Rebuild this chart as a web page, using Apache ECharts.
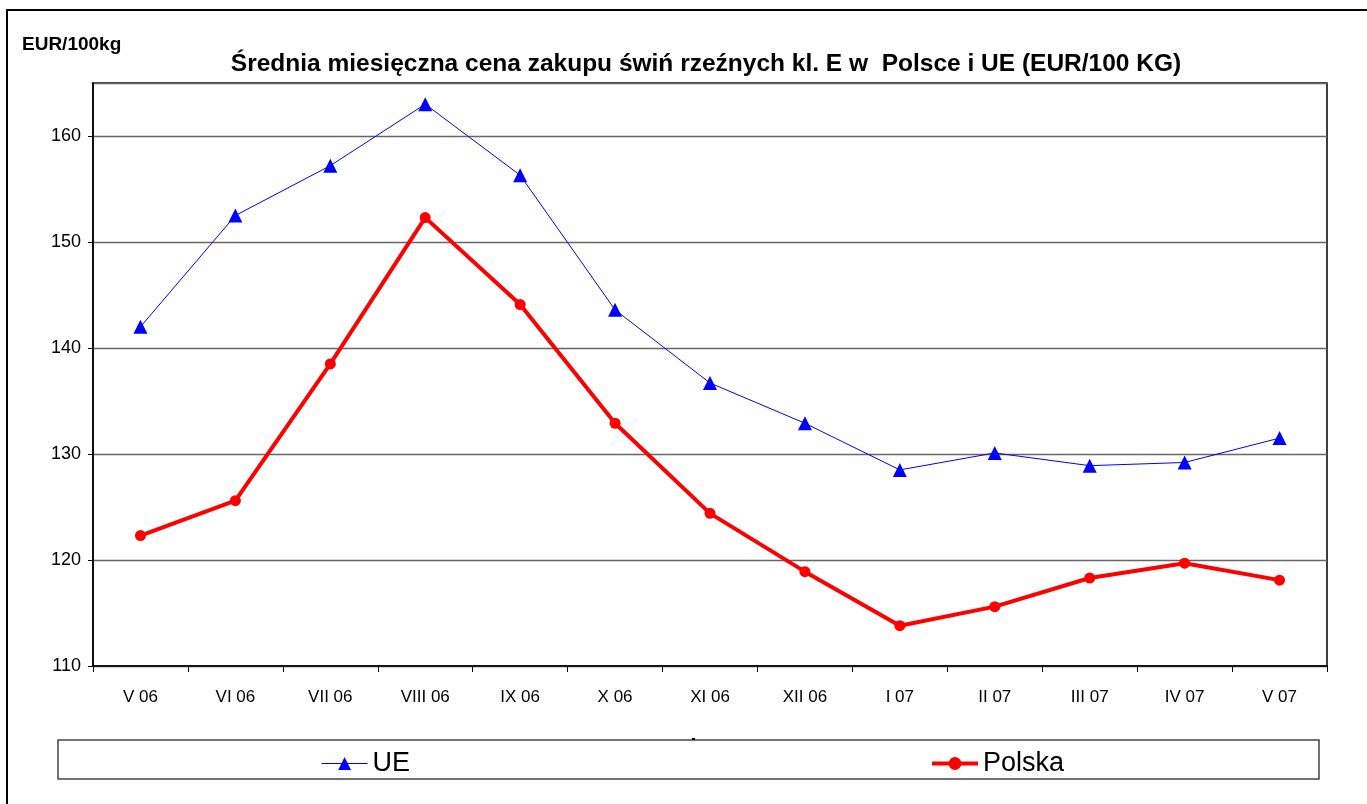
<!DOCTYPE html>
<html>
<head>
<meta charset="utf-8">
<script src="https://cdn.jsdelivr.net/npm/echarts@6/dist/echarts.min.js"></script>
<style>html,body{margin:0;padding:0;background:#fff}#c{width:1367px;height:804px}</style>
</head>
<body>
<div id="c"></div>
<script>
var categories = ['V 06','VI 06','VII 06','VIII 06','IX 06','X 06','XI 06','XII 06','I 07','II 07','III 07','IV 07','V 07'];
var ueValues = [142.0,152.5,157.2,163.0,156.3,143.6,136.7,132.9,128.5,130.1,128.9,129.2,131.5];
var polskaValues = [122.3,125.6,138.5,152.3,144.1,132.9,124.4,118.9,113.8,115.6,118.3,119.7,118.1];
var titleText = 'Średnia miesięczna cena zakupu świń rzeźnych kl. E w  Polsce i UE (EUR/100 KG)';
var unitText = 'EUR/100kg';

var chart = echarts.init(document.getElementById('c'), null, {renderer:'canvas'});
var F = 'Liberation Sans, Arial, sans-serif';
chart.setOption({
  animation:false,
  backgroundColor:'#fff',
  textStyle:{fontFamily:F},
  title:[
    {text:titleText,top:47,left:701,textAlign:'center',textStyle:{fontFamily:F,fontSize:24.5,fontWeight:'bold',color:'#000'}},
    {text:unitText,left:17,top:30,textStyle:{fontFamily:F,fontSize:19,fontWeight:'bold',color:'#000'}}
  ],
  graphic:[
    {type:'rect',shape:{x:7,y:10,width:1370,height:810},style:{fill:'none',stroke:'#000',lineWidth:2},z:0},
    {type:'rect',shape:{x:58,y:740,width:1261,height:39},style:{fill:'#fff',stroke:'#444',lineWidth:1.5},z:1},
    {type:'rect',shape:{x:692,y:738,width:3,height:2},style:{fill:'#000'},z:2},
    {type:'rect',shape:{x:84,y:81,width:7.8,height:4},style:{fill:'#fff'},z:100,zlevel:1}
  ],
  legend:[
    {data:['UE'],left:321,top:750,padding:0,itemWidth:46,itemHeight:16,itemGap:5,lineStyle:{width:1.2},textStyle:{fontFamily:F,fontSize:27,color:'#000'},z:5},
    {data:['Polska'],left:930,top:750,padding:0,itemWidth:46,itemHeight:16,itemGap:5,lineStyle:{width:4},textStyle:{fontFamily:F,fontSize:27,color:'#000'},z:5}
  ],
  grid:{left:93,top:83,width:1234,height:583,show:true,borderColor:'#000',borderWidth:1.5,containLabel:false},
  xAxis:{
    type:'category',data:categories,boundaryGap:true,
    axisLine:{lineStyle:{color:'#000',width:1.5}},
    axisTick:{show:true,inside:false,length:6,lineStyle:{color:'#000'}},
    axisLabel:{fontFamily:F,fontSize:17,color:'#000',margin:23}
  },
  yAxis:{
    type:'value',min:110,max:165,interval:10,
    axisLine:{show:true,lineStyle:{color:'#000',width:1.5}},
    axisTick:{show:true,length:5,lineStyle:{color:'#000'}},
    axisLabel:{fontFamily:F,fontSize:18,color:'#000',margin:12,
      formatter:function(v){return v%10===0?String(v):'';}},
    splitLine:{show:true,lineStyle:{color:'#666',width:1.3}}
  },
  series:[
    {name:'UE',type:'line',data:ueValues,symbol:'triangle',symbolSize:14,
      lineStyle:{color:'#0000ff',width:1},itemStyle:{color:'#0000ff'},z:3},
    {name:'Polska',type:'line',data:polskaValues,symbol:'circle',symbolSize:11,
      lineStyle:{color:'#ff0000',width:4},itemStyle:{color:'#ff0000'},z:4}
  ]
});
</script>
</body>
</html>
